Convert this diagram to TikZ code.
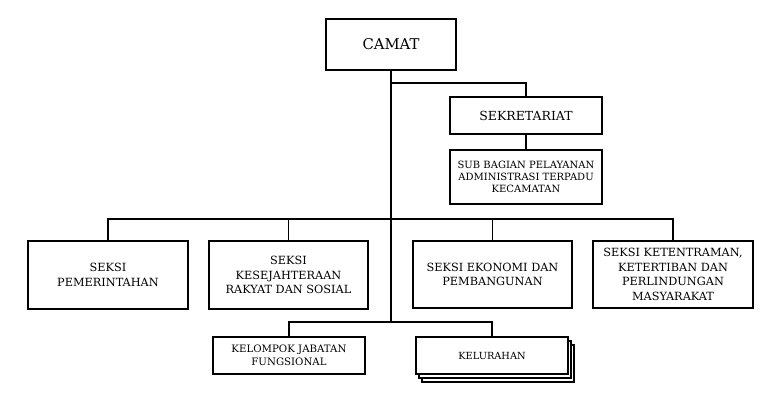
\documentclass[tikz,border=0pt]{standalone}
\usepackage{fontspec}
\setmainfont{DejaVu Serif}
\begin{document}
\begin{tikzpicture}[x=1pt,y=-1pt,
  box/.style={draw=black,line width=1.6pt,fill=white,align=center,inner sep=0pt,font=\fontsize{11.3}{14.5}\selectfont},
  conn/.style={line width=1.6pt,line cap=rect},
  trunk/.style={line width=2.4pt}]
\useasboundingbox[fill=white] (0,0) rectangle (780,400);
% boxes
\node[box,minimum width=130pt,minimum height=51pt,font=\fontsize{14.8}{17}\selectfont] (camat) at (391,44.5) {CAMAT};
\node[box,minimum width=152pt,minimum height=37pt,font=\fontsize{12.5}{14}\selectfont] (sek) at (526,115.5) {SEKRETARIAT};
\node[box,minimum width=152pt,minimum height=54pt,font=\fontsize{10}{12}\selectfont] (sub) at (526,177) {SUB BAGIAN PELAYANAN\\ADMINISTRASI TERPADU\\KECAMATAN};
\node[box,minimum width=160pt,minimum height=68pt] (pem) at (108,275) {SEKSI\\PEMERINTAHAN};
\node[box,minimum width=159pt,minimum height=68pt] (kes) at (288.5,275) {SEKSI\\KESEJAHTERAAN\\RAKYAT DAN SOSIAL};
\node[box,minimum width=159pt,minimum height=67pt] (eko) at (492.5,274.5) {SEKSI EKONOMI DAN\\PEMBANGUNAN};
\node[box,minimum width=160pt,minimum height=67pt] (ket) at (673,274.5) {SEKSI KETENTRAMAN,\\KETERTIBAN DAN\\PERLINDUNGAN\\MASYARAKAT};
\node[box,minimum width=152pt,minimum height=37pt,font=\fontsize{10.2}{13.3}\selectfont] (kel) at (289,355.5) {KELOMPOK JABATAN\\FUNGSIONAL};
\node[box,minimum width=152pt,minimum height=37pt] (lur3) at (498,363.5) {};
\node[box,minimum width=152pt,minimum height=37pt] (lur2) at (495,359.5) {};
\node[box,minimum width=152pt,minimum height=37pt,font=\fontsize{9.8}{12}\selectfont] (lur) at (492,355.5) {KELURAHAN};
% connectors
\coordinate (j1) at (391,83);
\coordinate (j2) at (391,219);
\coordinate (j3) at (391,322);
\draw[conn] (j1) -| (sek.north);
\draw[conn] (sek.south) -- (sub.north);
\draw[conn] (pem.north) |- (j2) -| (ket.north);
\draw[conn] (kes.north) |- (j2);
\draw[conn] (eko.north) |- (j2);
\draw[conn] (kel.north) |- (j3) -| (lur.north);
\draw[trunk] (camat.south) -- (j3);
\end{tikzpicture}
\end{document}
